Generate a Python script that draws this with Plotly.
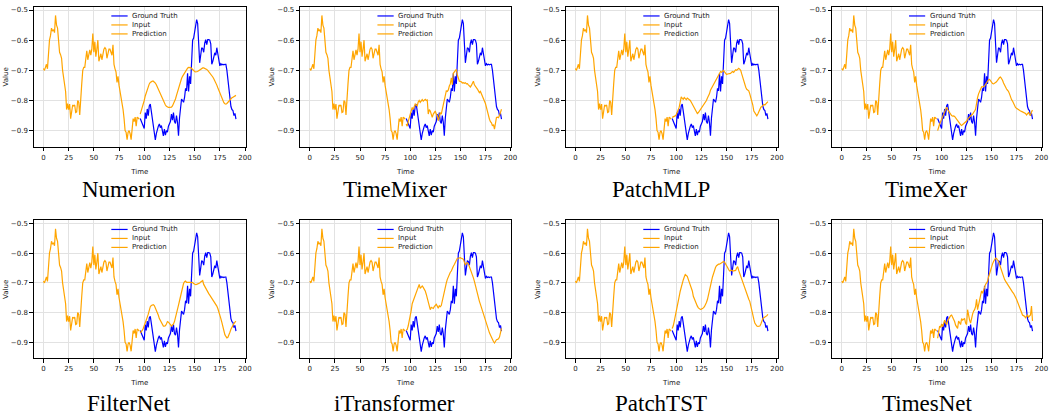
import plotly.graph_objects as go

# ---------------- data ----------------
t_input = list(range(0, 96))
t_pred = list(range(96, 192))

input_vals = [
    -0.694, -0.700, -0.690, -0.680, -0.695, -0.640, -0.600, -0.585, -0.560, -0.570,
    -0.565, -0.575, -0.518, -0.550, -0.560, -0.600, -0.640, -0.648, -0.660, -0.700,
    -0.720, -0.745, -0.770, -0.830, -0.810, -0.830, -0.812, -0.860, -0.840, -0.815,
    -0.818, -0.815, -0.840, -0.838, -0.800, -0.805, -0.848, -0.770, -0.745, -0.700,
    -0.690, -0.690, -0.650, -0.635, -0.665, -0.640, -0.632, -0.650, -0.630, -0.578,
    -0.640, -0.605, -0.655, -0.630, -0.600, -0.670, -0.650, -0.645, -0.665, -0.640,
    -0.630, -0.625, -0.630, -0.660, -0.640, -0.630, -0.630, -0.640, -0.650, -0.615,
    -0.680, -0.695, -0.705, -0.740, -0.720, -0.750, -0.770, -0.790, -0.800, -0.830,
    -0.860, -0.900, -0.905, -0.930, -0.905, -0.900, -0.910, -0.930, -0.895, -0.860,
    -0.870, -0.855, -0.885, -0.855, -0.858, -0.862,
]

ground_truth = [
    -0.860, -0.870, -0.880, -0.889, -0.893, -0.840, -0.860, -0.828, -0.850, -0.818,
    -0.812, -0.835, -0.862, -0.880, -0.900, -0.931, -0.910, -0.895, -0.885, -0.878,
    -0.890, -0.883, -0.905, -0.917, -0.895, -0.915, -0.900, -0.905, -0.885, -0.878,
    -0.870, -0.845, -0.865, -0.840, -0.870, -0.876, -0.850, -0.872, -0.917, -0.858,
    -0.820, -0.795, -0.800, -0.806, -0.790, -0.760, -0.768, -0.710, -0.770, -0.720,
    -0.745, -0.660, -0.600, -0.593, -0.575, -0.545, -0.532, -0.545, -0.610, -0.675,
    -0.650, -0.625, -0.628, -0.640, -0.610, -0.598, -0.615, -0.598, -0.598, -0.600,
    -0.612, -0.680, -0.670, -0.650, -0.642, -0.650, -0.625, -0.645, -0.665, -0.685,
    -0.678, -0.682, -0.680, -0.682, -0.680, -0.680, -0.700, -0.735, -0.765, -0.800,
    -0.820, -0.830, -0.833, -0.850, -0.843, -0.862,
]

pred_numerion = [
    -0.845, -0.835, -0.825, -0.815, -0.800, -0.785, -0.773, -0.762, -0.752, -0.745,
    -0.740, -0.737, -0.736, -0.736, -0.738, -0.742, -0.748, -0.756, -0.765, -0.773,
    -0.781, -0.789, -0.796, -0.803, -0.810, -0.815, -0.819, -0.822, -0.823, -0.823,
    -0.823, -0.822, -0.818, -0.812, -0.804, -0.795, -0.783, -0.770, -0.757, -0.745,
    -0.735, -0.727, -0.720, -0.714, -0.708, -0.702, -0.697, -0.693, -0.690, -0.690,
    -0.691, -0.694, -0.698, -0.702, -0.704, -0.705, -0.705, -0.704, -0.701, -0.698,
    -0.695, -0.693, -0.692, -0.692, -0.693, -0.695, -0.697, -0.700, -0.704, -0.708,
    -0.712, -0.717, -0.722, -0.728, -0.734, -0.741, -0.749, -0.758, -0.767, -0.777,
    -0.786, -0.794, -0.801, -0.807, -0.811, -0.812, -0.810, -0.806, -0.801, -0.797,
    -0.794, -0.791, -0.789, -0.787, -0.785, -0.783,
]

pred_timemixer = [
    -0.878, -0.885, -0.870, -0.856, -0.848, -0.835, -0.823, -0.830, -0.822, -0.812,
    -0.815, -0.818, -0.805, -0.800, -0.806, -0.800, -0.797, -0.802, -0.800, -0.796,
    -0.800, -0.798, -0.845, -0.830, -0.835, -0.848, -0.856, -0.845, -0.840, -0.835,
    -0.845, -0.850, -0.867, -0.850, -0.840, -0.845, -0.830, -0.812, -0.800, -0.790,
    -0.768, -0.770, -0.765, -0.752, -0.745, -0.725, -0.748, -0.710, -0.705, -0.703,
    -0.697, -0.715, -0.728, -0.736, -0.737, -0.738, -0.742, -0.741, -0.743, -0.741,
    -0.745, -0.744, -0.748, -0.752, -0.755, -0.750, -0.742, -0.736, -0.748, -0.752,
    -0.758, -0.762, -0.768, -0.774, -0.770, -0.778, -0.786, -0.790, -0.796, -0.810,
    -0.823, -0.838, -0.850, -0.862, -0.870, -0.874, -0.884, -0.880, -0.895, -0.865,
    -0.856, -0.855, -0.857, -0.850, -0.840, -0.829,
]

pred_patchmlp = [
    -0.856, -0.855, -0.853, -0.851, -0.848, -0.840, -0.830, -0.822, -0.805, -0.788,
    -0.793, -0.796, -0.790, -0.795, -0.797, -0.792, -0.795, -0.795, -0.800, -0.806,
    -0.812, -0.818, -0.825, -0.833, -0.838, -0.843, -0.840, -0.835, -0.828, -0.823,
    -0.820, -0.815, -0.812, -0.806, -0.800, -0.792, -0.786, -0.778, -0.766, -0.760,
    -0.752, -0.748, -0.743, -0.735, -0.728, -0.721, -0.716, -0.710, -0.704, -0.706,
    -0.703, -0.700, -0.705, -0.710, -0.714, -0.712, -0.712, -0.710, -0.710, -0.706,
    -0.704, -0.707, -0.702, -0.698, -0.700, -0.695, -0.693, -0.696, -0.700, -0.712,
    -0.725, -0.737, -0.748, -0.756, -0.763, -0.765, -0.768, -0.778, -0.788, -0.800,
    -0.815, -0.835, -0.842, -0.848, -0.851, -0.845, -0.835, -0.825, -0.822, -0.820,
    -0.817, -0.813, -0.815, -0.810, -0.805, -0.804,
]

pred_timexer = [
    -0.900, -0.885, -0.878, -0.870, -0.862, -0.851, -0.842, -0.834, -0.826, -0.822,
    -0.830, -0.836, -0.840, -0.846, -0.850, -0.852, -0.851, -0.853, -0.858, -0.862,
    -0.867, -0.872, -0.876, -0.880, -0.883, -0.880, -0.879, -0.877, -0.874, -0.868,
    -0.862, -0.858, -0.853, -0.850, -0.848, -0.845, -0.841, -0.835, -0.829, -0.805,
    -0.790, -0.778, -0.768, -0.760, -0.755, -0.755, -0.754, -0.752, -0.746, -0.740,
    -0.735, -0.731, -0.730, -0.735, -0.740, -0.744, -0.745, -0.743, -0.741, -0.738,
    -0.733, -0.727, -0.724, -0.722, -0.727, -0.733, -0.742, -0.750, -0.755, -0.762,
    -0.766, -0.770, -0.778, -0.790, -0.797, -0.802, -0.810, -0.817, -0.823, -0.826,
    -0.829, -0.832, -0.833, -0.835, -0.836, -0.838, -0.840, -0.841, -0.843, -0.848,
    -0.845, -0.840, -0.846, -0.850, -0.838, -0.832,
]

pred_filternet = [
    -0.868, -0.865, -0.860, -0.853, -0.845, -0.836, -0.826, -0.815, -0.805, -0.790,
    -0.780, -0.776, -0.773, -0.773, -0.776, -0.783, -0.793, -0.800, -0.809, -0.820,
    -0.827, -0.835, -0.842, -0.845, -0.845, -0.844, -0.838, -0.830, -0.832, -0.835,
    -0.840, -0.845, -0.842, -0.838, -0.830, -0.818, -0.805, -0.793, -0.775, -0.760,
    -0.745, -0.730, -0.712, -0.702, -0.696, -0.694, -0.698, -0.698, -0.696, -0.697,
    -0.698, -0.699, -0.698, -0.702, -0.704, -0.706, -0.705, -0.704, -0.702, -0.700,
    -0.697, -0.695, -0.692, -0.705, -0.712, -0.716, -0.722, -0.729, -0.736, -0.741,
    -0.746, -0.751, -0.756, -0.762, -0.768, -0.772, -0.778, -0.786, -0.795, -0.808,
    -0.820, -0.833, -0.848, -0.862, -0.874, -0.880, -0.885, -0.883, -0.876, -0.866,
    -0.856, -0.848, -0.842, -0.837, -0.832, -0.829,
]

pred_itransformer = [
    -0.858, -0.857, -0.845, -0.831, -0.810, -0.793, -0.770, -0.760, -0.751, -0.740,
    -0.732, -0.720, -0.712, -0.705, -0.718, -0.712, -0.710, -0.715, -0.720, -0.727,
    -0.738, -0.749, -0.760, -0.776, -0.790, -0.782, -0.784, -0.786, -0.780, -0.774,
    -0.772, -0.778, -0.785, -0.777, -0.780, -0.776, -0.758, -0.748, -0.730, -0.712,
    -0.700, -0.688, -0.678, -0.667, -0.664, -0.660, -0.647, -0.644, -0.638, -0.630,
    -0.625, -0.617, -0.617, -0.616, -0.615, -0.617, -0.618, -0.620, -0.630, -0.640,
    -0.634, -0.632, -0.636, -0.645, -0.656, -0.662, -0.668, -0.683, -0.695, -0.710,
    -0.725, -0.740, -0.755, -0.762, -0.772, -0.783, -0.790, -0.800, -0.812, -0.830,
    -0.840, -0.850, -0.862, -0.868, -0.875, -0.885, -0.890, -0.897, -0.902, -0.894,
    -0.891, -0.890, -0.888, -0.882, -0.868, -0.853,
]

pred_patchtst = [
    -0.853, -0.845, -0.830, -0.815, -0.800, -0.780, -0.762, -0.745, -0.728, -0.712,
    -0.700, -0.690, -0.680, -0.672, -0.675, -0.678, -0.688, -0.697, -0.705, -0.715,
    -0.727, -0.745, -0.755, -0.764, -0.772, -0.778, -0.784, -0.787, -0.789, -0.788,
    -0.787, -0.784, -0.780, -0.774, -0.766, -0.756, -0.743, -0.725, -0.712, -0.695,
    -0.680, -0.667, -0.657, -0.648, -0.642, -0.638, -0.637, -0.637, -0.635, -0.632,
    -0.630, -0.628, -0.630, -0.635, -0.640, -0.648, -0.655, -0.660, -0.658, -0.657,
    -0.660, -0.660, -0.660, -0.658, -0.650, -0.645, -0.658, -0.668, -0.680, -0.690,
    -0.700, -0.705, -0.715, -0.725, -0.735, -0.745, -0.755, -0.762, -0.780, -0.795,
    -0.808, -0.822, -0.835, -0.842, -0.845, -0.846, -0.845, -0.845, -0.838, -0.828,
    -0.820, -0.817, -0.815, -0.813, -0.810, -0.806,
]

pred_timesnet = [
    -0.886, -0.862, -0.845, -0.850, -0.838, -0.848, -0.835, -0.825, -0.835, -0.840,
    -0.828, -0.820, -0.815, -0.810, -0.808, -0.815, -0.822, -0.830, -0.842, -0.848,
    -0.853, -0.828, -0.835, -0.840, -0.820, -0.825, -0.822, -0.820, -0.835, -0.840,
    -0.790, -0.815, -0.825, -0.835, -0.812, -0.805, -0.795, -0.790, -0.780, -0.755,
    -0.790, -0.775, -0.765, -0.745, -0.727, -0.735, -0.725, -0.710, -0.705, -0.700,
    -0.695, -0.680, -0.667, -0.655, -0.645, -0.636, -0.628, -0.620, -0.617, -0.618,
    -0.622, -0.628, -0.638, -0.648, -0.660, -0.672, -0.680, -0.688, -0.694, -0.700,
    -0.706, -0.712, -0.718, -0.722, -0.727, -0.731, -0.735, -0.740, -0.748, -0.755,
    -0.765, -0.775, -0.783, -0.793, -0.800, -0.808, -0.810, -0.812, -0.817, -0.812,
    -0.808, -0.815, -0.812, -0.808, -0.778, -0.828,
]

model_names = ["Numerion", "TimeMixer", "PatchMLP", "TimeXer",
               "FilterNet", "iTransformer", "PatchTST", "TimesNet"]
predictions = [pred_numerion, pred_timemixer, pred_patchmlp, pred_timexer,
               pred_filternet, pred_itransformer, pred_patchtst, pred_timesnet]

series_labels = ["Ground Truth", "Input", "Prediction"]
x_ticks = [0, 25, 50, 75, 100, 125, 150, 175, 200]
y_ticks = [-0.9, -0.8, -0.7, -0.6, -0.5]
y_tick_labels = ["\u22120.9", "\u22120.8", "\u22120.7", "\u22120.6", "\u22120.5"]

# ---------------- layout geometry ----------------
W, H = 1053, 420
col_px = [(34, 247), (302, 514), (569, 782), (837, 1048)]
row_px = [(6, 146), (220, 358)]
title_cx = [130, 397, 665, 932]
title_cy = [189, 403]

GT_COLOR = "#0000FF"
IN_COLOR = "#FFA500"
PR_COLOR = "#FFA500"
series_colors = [GT_COLOR, IN_COLOR, PR_COLOR]
TEXT_COLOR = "#1a1a1a"
TICK_FONT = dict(family="DejaVu Sans", size=7, color=TEXT_COLOR)
LW = 1.2

fig = go.Figure()
annotations = []
shapes = []
for i, (name, pred) in enumerate(zip(model_names, predictions)):
    r, c = divmod(i, 4)
    n = i + 1
    xa = "x" if n == 1 else f"x{n}"
    ya = "y" if n == 1 else f"y{n}"
    fig.add_trace(go.Scatter(x=t_pred, y=ground_truth, mode="lines", name=series_labels[0],
                             line=dict(color=GT_COLOR, width=LW), xaxis=xa, yaxis=ya, showlegend=False))
    fig.add_trace(go.Scatter(x=t_input, y=input_vals, mode="lines", name=series_labels[1],
                             line=dict(color=IN_COLOR, width=LW), xaxis=xa, yaxis=ya, showlegend=False))
    fig.add_trace(go.Scatter(x=t_pred, y=pred, mode="lines", name=series_labels[2],
                             line=dict(color=PR_COLOR, width=LW), xaxis=xa, yaxis=ya, showlegend=False))

    x0, x1 = col_px[c]
    yt, yb = row_px[r]
    axis_common = dict(showline=True, linecolor="black", linewidth=1.1, mirror=True,
                       ticks="outside", ticklen=3.5, tickwidth=0.8, tickcolor="black",
                       showgrid=True, gridcolor="#e2e2e2", gridwidth=1,
                       zeroline=False, tickfont=TICK_FONT)
    fig.update_layout(**{
        ("xaxis" if n == 1 else f"xaxis{n}"): dict(
            domain=[x0 / W, x1 / W], anchor=ya, range=[-9.55, 200.55],
            tickmode="array", tickvals=x_ticks, ticktext=[str(v) for v in x_ticks],
            title=dict(text="Time", font=dict(family="DejaVu Sans", size=7, color=TEXT_COLOR), standoff=8),
            **axis_common),
        ("yaxis" if n == 1 else f"yaxis{n}"): dict(
            domain=[1 - yb / H, 1 - yt / H], anchor=xa, range=[-0.953, -0.490],
            tickmode="array", tickvals=y_ticks, ticktext=y_tick_labels,
            title=dict(text="Value", font=dict(family="DejaVu Sans", size=7, color=TEXT_COLOR), standoff=1),
            **axis_common),
    })

    # compact legend (matplotlib style) drawn in axis-domain coordinates
    h = yb - yt
    for k, (lab, col) in enumerate(zip(series_labels, series_colors)):
        yd = 1 - (9 + 9 * k) / h
        shapes.append(dict(type="line", xref=f"{xa} domain", yref=f"{ya} domain",
                           x0=0.366, x1=0.443, y0=yd, y1=yd,
                           line=dict(color=col, width=LW)))
        annotations.append(dict(text=lab, xref=f"{xa} domain", yref=f"{ya} domain",
                                x=0.455, y=yd, xanchor="left", yanchor="middle",
                                showarrow=False,
                                font=dict(family="DejaVu Sans", size=7, color=TEXT_COLOR)))

    annotations.append(dict(text=name, xref="paper", yref="paper",
                            x=title_cx[c] / W, y=1 - title_cy[r] / H,
                            xanchor="center", yanchor="middle", showarrow=False,
                            font=dict(family="Liberation Serif", size=23, color="black")))

fig.update_layout(width=W, height=H, margin=dict(l=0, r=0, t=0, b=0),
                  paper_bgcolor="white", plot_bgcolor="white",
                  annotations=annotations, shapes=shapes, showlegend=False)
fig.write_html("out.html")
